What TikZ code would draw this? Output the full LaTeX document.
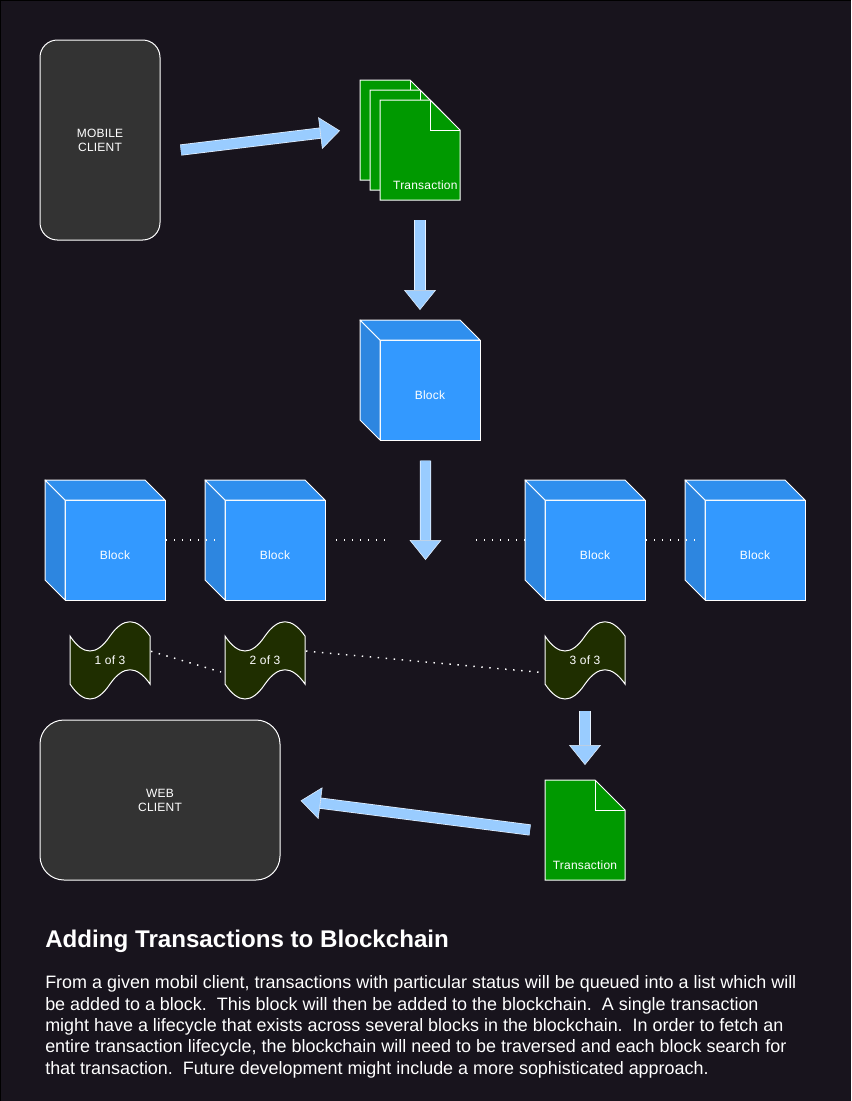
\documentclass[tikz,border=0pt]{standalone}
\usepackage{fontspec}
\setmainfont{Liberation Sans}
\usepackage{tikz}
\usetikzlibrary{positioning, arrows.meta}

\definecolor{pagedark}{HTML}{18141D}
\definecolor{clientgray}{HTML}{333333}
\definecolor{docgreen}{HTML}{009900}
\definecolor{cubeblue}{HTML}{3399FF}
\definecolor{cubetop}{HTML}{2F8FEE}
\definecolor{cubeside}{HTML}{2D86E0}
\definecolor{tapegreen}{HTML}{1F2E00}
\definecolor{arrowblue}{HTML}{99CCFF}

\newcommand{\smallfont}{\fontsize{9}{10.5}\selectfont\addfontfeature{LetterSpace=1.7}}

\tikzset{
    client/.style={draw=white, line width=.75pt, fill=clientgray, text=white, font=\smallfont, align=center,
        inner sep=0pt, outer sep=0pt},
    cube/.style={draw=white, line width=.75pt, fill=cubeblue, text=white, font=\smallfont, minimum size=75pt,
        inner sep=0pt, outer sep=0pt, text height=13.5pt, text depth=0pt},
    cubeface/.style={draw=white, line width=.75pt, line join=round},
    docbox/.style={minimum width=60pt, minimum height=75pt, inner sep=0pt, outer sep=0pt},
    tapebox/.style={minimum width=60pt, minimum height=57pt, inner sep=0pt, outer sep=0pt},
    smalltext/.style={text=white, font=\smallfont, inner sep=0pt},
    bigarrow/.style={draw=white!75!arrowblue, line width=.5pt, double=arrowblue, double distance=7.4pt,
        -{Triangle[length=15pt, width=24pt, fill=arrowblue, line width=.4pt]}},
    dots/.style={draw=white, line width=1.1pt, dash pattern=on 1.1pt off 4.9pt, dash phase=5.25pt}
}

\newcommand{\docshape}[1]{
    \filldraw [draw=white, line width=.75pt, fill=docgreen, shift={(#1.north west)}]
        (0,0) -- (50,0) -- (80,30) -- (80,100) -- (0,100) -- cycle;
    \draw [draw=white, line width=.75pt, shift={(#1.north west)}] (50,0) -- (50,30) -- (80,30);
}
\newcommand{\cubeshape}[1]{
    \filldraw [cubeface, fill=cubeside, shift={(#1.north west)}]
        (0,0) -- (-20,-20) -- (-20,80) -- (0,100) -- cycle;
    \filldraw [cubeface, fill=cubetop, shift={(#1.north west)}]
        (0,0) -- (-20,-20) -- (80,-20) -- (100,0) -- cycle;
}
\newcommand{\tapeshape}[1]{
    \filldraw [draw=white, line width=.75pt, fill=tapegreen, shift={(#1.north west)}]
        (0,14) .. controls (13.3,34) and (26.7,34) .. (40,14)
        .. controls (53.3,-5) and (66.7,-5) .. (80,14) -- (80,62)
        .. controls (66.7,43) and (53.3,43) .. (40,62)
        .. controls (26.7,82) and (13.3,82) .. (0,62) -- cycle;
}

\begin{document}
\begin{tikzpicture}[x=.75pt, y=-.75pt]
    % page
    \fill [black] (0,0) rectangle (851,1101);
    \fill [pagedark] (1,1) rectangle (851,1101);
    \useasboundingbox (0,0) rectangle (851,1101);

    \node [client, minimum width=90pt, minimum height=150pt, rounded corners=13pt] (mobile) at (100,140) {MOBILE\\CLIENT};
    \node [client, minimum width=180pt, minimum height=120pt, rounded corners=18pt] (web) at (160,800) {WEB\\CLIENT};

    % queued transactions
    \node [docbox] (docA) at (400,130) {};
    \docshape{docA}
    \node [docbox] (docB) at (410,140) {};
    \docshape{docB}
    \node [docbox] (docC) at (420,150) {};
    \docshape{docC}
    \node [smalltext, above=8.25pt of docC.south, anchor=base, xshift=4pt] (docCName) {Transaction};

    % new block
    \node [cube] (blockNew) at (430,390) {Block};
    \cubeshape{blockNew}

    % chain
    \node [cube] (blockA) at (115,550) {Block};
    \node [cube, right=45pt of blockA] (blockB) {Block};
    \node [cube, right=165pt of blockB] (blockC) {Block};
    \node [cube, right=45pt of blockC] (blockD) {Block};
    \foreach \b in {blockA, blockB, blockC, blockD} {
        \cubeshape{\b}
    }
    \coordinate (gapLeft) at (385,540);
    \coordinate (gapRight) at (475,540);
    \coordinate (chainPoint) at (425.5,560);

    % lifecycle pieces
    \node [tapebox] (tapeA) at (110,660) {};
    \tapeshape{tapeA}
    \node [smalltext] (tapeAName) at (tapeA) {1 of 3};
    \node [tapebox, right=56.25pt of tapeA] (tapeB) {};
    \tapeshape{tapeB}
    \node [smalltext] (tapeBName) at (tapeB) {2 of 3};
    \node [tapebox, right=180pt of tapeB] (tapeC) {};
    \tapeshape{tapeC}
    \node [smalltext] (tapeCName) at (tapeC) {3 of 3};

    % fetched transaction
    \node [docbox] (docD) at (585,830) {};
    \docshape{docD}
    \node [smalltext, above=8.25pt of docD.south, anchor=base] (docDName) {Transaction};

    \draw [bigarrow, shorten <=15.7pt, shorten >=15.1pt]
        ([yshift=-9.4pt]mobile.east) -- ([yshift=1.3pt]docA.west);
    \draw [bigarrow, shorten <=15pt, shorten >=22.5pt]
        (docC.south) -- ([xshift=-7.5pt]blockNew.north);
    \draw [bigarrow, shorten <=15.5pt]
        ([xshift=-3.4pt]blockNew.south) -- (chainPoint);
    \draw [bigarrow, shorten <=9.75pt, shorten >=11.25pt]
        (tapeC.south) -- (docD.north);
    \draw [bigarrow, shorten <=11.3pt, shorten >=15.6pt]
        ([yshift=-1.4pt]docD.west) -- ([yshift=1.5pt]web.east);

    \draw [dots] ([yshift=7.5pt]blockA.east) -- ([yshift=7.5pt, xshift=-7.5pt]blockB.west);
    \draw [dots] ([yshift=7.5pt, xshift=7.5pt]blockB.east) -- (gapLeft);
    \draw [dots] (gapRight) -- ([yshift=7.5pt, xshift=-15pt]blockC.west);
    \draw [dots] ([yshift=7.5pt]blockC.east) -- ([yshift=7.5pt, xshift=-7.5pt]blockD.west);
    \draw [dots] ([yshift=6.75pt]tapeA.east) -- ([yshift=-9pt, xshift=-3pt]tapeB.west);
    \draw [dots] ([yshift=6.75pt]tapeB.east) -- ([yshift=-9.5pt, xshift=-1pt]tapeC.west);

    % caption
    \node [text=white, anchor=base west, inner sep=0pt, font={\fontsize{18.1}{22}\selectfont\bfseries}] (heading) at (45,947.5) {Adding Transactions to Blockchain};
    \node [text=white, below=21.1pt of heading.base west, anchor=north west, inner sep=0pt, align=left, font={\fontsize{13.46}{16}\selectfont}] (summary) {From a given mobil client, transactions with particular status will be queued into a list which will\\
be added to a block.\ \ This block will then be added to the blockchain.\ \ A single transaction\\
might have a lifecycle that exists across several blocks in the blockchain.\ \ In order to fetch an\\
entire transaction lifecycle, the blockchain will need to be traversed and each block search for\\
that transaction.\ \ Future development might include a more sophisticated approach.};
\end{tikzpicture}
\end{document}
